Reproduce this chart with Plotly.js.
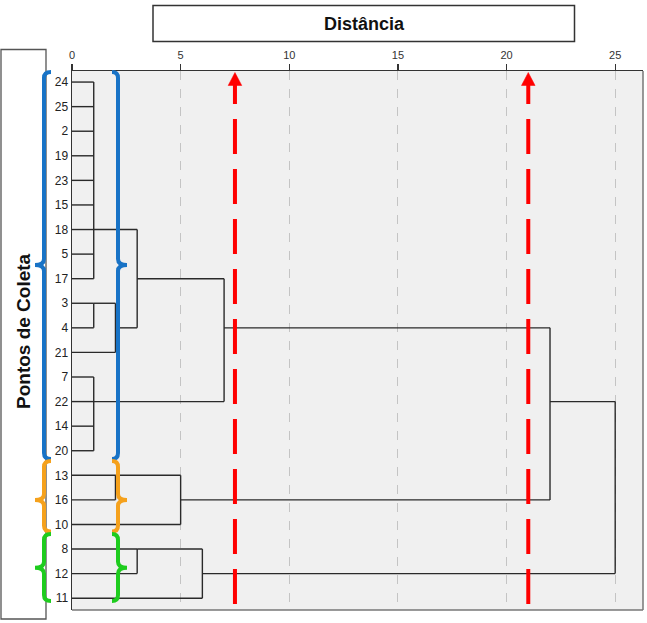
<!DOCTYPE html>
<html>
<head>
<meta charset="utf-8">
<script src="https://cdn.plot.ly/plotly-3.0.1.min.js"></script>
<style>html,body{margin:0;padding:0;background:#fff;}#chart{width:647px;height:623px;}</style>
</head>
<body>
<div id="chart"></div>
<script>
// ---- data ----
const leafLabels = ['24','25','2','19','23','15','18','5','17','3','4','21','7','22','14','20','13','16','10','8','12','11'];
const mergeChildren = [
  ['24','25','2','19','23','15','18','5','17'],
  ['3','4'],
  ['m1','21'],
  ['m0','m2'],
  ['7','22','14','20'],
  ['m3','m4'],
  ['13','16'],
  ['m6','10'],
  ['m5','m7'],
  ['8','12'],
  ['m9','11'],
  ['m8','m10']
];
const mergeHeight = [1, 1, 2, 3, 1, 7, 2, 5, 22, 3, 6, 25];
const mergeExit = ['18','3','4','17','22','4','13','16','22','8','12',null];
const cutLevels = [7.5, 21];
const xTicks = [0, 5, 10, 15, 20, 25];
const groupColors = ['#1873c6', '#f5a11c', '#1ecc1e'];
const groupFirst = ['24', '13', '8'];
const groupLast = ['20', '10', '11'];

// ---- geometry helpers ----
const L = 72, T = 71, W = 571, H = 539;
const XMAX = 26.28;
const px = v => (v - L) / W;
const py = v => (T + H - v) / H;
const rowOf = lab => leafLabels.indexOf(lab);

function childPos(c) {
  if (c[0] === 'm') {
    const k = parseInt(c.slice(1));
    return {x: mergeHeight[k], r: rowOf(mergeExit[k])};
  }
  return {x: 0, r: rowOf(c)};
}

const lx = [], ly = [];
mergeChildren.forEach((ch, k) => {
  const h = mergeHeight[k];
  const rows = [];
  ch.forEach(c => {
    const p = childPos(c);
    lx.push(p.x, h, null); ly.push(p.r, p.r, null);
    rows.push(p.r);
  });
  lx.push(h, h, null); ly.push(Math.min(...rows), Math.max(...rows), null);
});

const traces = [{
  type: 'scatter', mode: 'lines', x: lx, y: ly,
  line: {color: '#2a2a2a', width: 1.4}, hoverinfo: 'skip', showlegend: false
}];

const shapes = [];
// right & bottom border
shapes.push({type:'line', xref:'paper', yref:'paper', x0:1, x1:1, y0:0, y1:1, line:{color:'#777', width:1.5}});
shapes.push({type:'line', xref:'paper', yref:'paper', x0:0, x1:1, y0:0, y1:0, line:{color:'#777', width:1.5}});

// red dashed cut lines with arrowheads
cutLevels.forEach(c => {
  shapes.push({type:'line', xref:'x', yref:'paper', x0:c, x1:c, y0:py(604), y1:py(85),
    line:{color:'#ff0000', width:4, dash:'35px,15px'}});
  const xc = L + c * W / XMAX;
  shapes.push({type:'path', xref:'paper', yref:'paper',
    path:`M${px(xc-6.8)},${py(85.5)} L${px(xc+6.8)},${py(85.5)} L${px(xc)},${py(72.5)} Z`,
    fillcolor:'#ff0000', line:{color:'#ff0000', width:0.5}});
});

// braces
function brace(xv, xh, xt, y0, y1, ym, color) {
  const r = 6;
  const P = (a, b) => `${px(a)},${py(b)}`;
  const path = `M${P(xh,y0)} Q${P(xv,y0)} ${P(xv,y0+r)} L${P(xv,ym-r)} Q${P(xv,ym)} ${P(xt,ym)} ` +
               `Q${P(xv,ym)} ${P(xv,ym+r)} L${P(xv,y1-r)} Q${P(xv,y1)} ${P(xh,y1)}`;
  return {type:'path', xref:'paper', yref:'paper', path, line:{color, width:4}};
}
const rowPx = r => 82 + r * 24.59;
const braceTop = [72, 461, 534];
const braceBot = [459, 531.5, 601];
groupColors.forEach((col, g) => {
  const y0 = braceTop[g], y1 = braceBot[g];
  const ym = g === 0 ? 265 : (rowPx(rowOf(groupFirst[g])) + rowPx(rowOf(groupLast[g]))) / 2 + (g===2 ? -6 : 0);
  shapes.push(brace(44, 51, 35, y0, y1, ym, col));
  shapes.push(brace(118, 112, 127, y0, y1, ym, col));
});

// boxes
shapes.push({type:'rect', xref:'paper', yref:'paper', x0:px(153), x1:px(574.5), y0:py(5.5), y1:py(41.5),
  fillcolor:'#fff', line:{color:'#333', width:1.5}, layer:'below'});
shapes.push({type:'rect', xref:'paper', yref:'paper', x0:px(1), x1:px(46), y0:py(49.5), y1:py(619),
  fillcolor:'rgba(0,0,0,0)', line:{color:'#555', width:1.3}, layer:'below'});

const layout = {
  width: 647, height: 623,
  margin: {l: L, r: 647 - L - W, t: T, b: 623 - T - H, pad: 0},
  paper_bgcolor: '#ffffff', plot_bgcolor: '#f0f0f0',
  font: {family: 'Liberation Sans, Arial, sans-serif', color: '#222'},
  showlegend: false,
  xaxis: {
    side: 'top', range: [0, XMAX], tickvals: xTicks, ticktext: xTicks.map(String),
    ticks: 'outside', ticklen: 6, tickwidth: 1.2, tickcolor: '#333',
    showline: true, linecolor: '#333', linewidth: 1.5, zeroline: false,
    showgrid: true, gridcolor: '#c4c4c4', griddash: 'dash', gridwidth: 1,
    tickfont: {size: 11, color: '#333'}, fixedrange: true
  },
  yaxis: {
    range: [21.48, -0.45], tickvals: leafLabels.map((_, i) => i), ticktext: leafLabels,
    ticks: '', showline: true, linecolor: '#333', linewidth: 1.5, zeroline: false,
    showgrid: false, tickfont: {size: 12, color: '#222'}, fixedrange: true
  },
  shapes: shapes,
  annotations: [
    {text: '<b>Distância</b>', xref: 'paper', yref: 'paper', x: px(364), y: py(23.5),
     showarrow: false, font: {size: 18, color: '#111'}, xanchor: 'center', yanchor: 'middle'},
    {text: '<b>Pontos de Coleta</b>', xref: 'paper', yref: 'paper', x: px(23), y: py(331),
     showarrow: false, textangle: -90, font: {size: 19, color: '#111'}, xanchor: 'center', yanchor: 'middle'}
  ]
};

Plotly.newPlot('chart', traces, layout, {displayModeBar: false, staticPlot: true});
</script>
</body>
</html>
